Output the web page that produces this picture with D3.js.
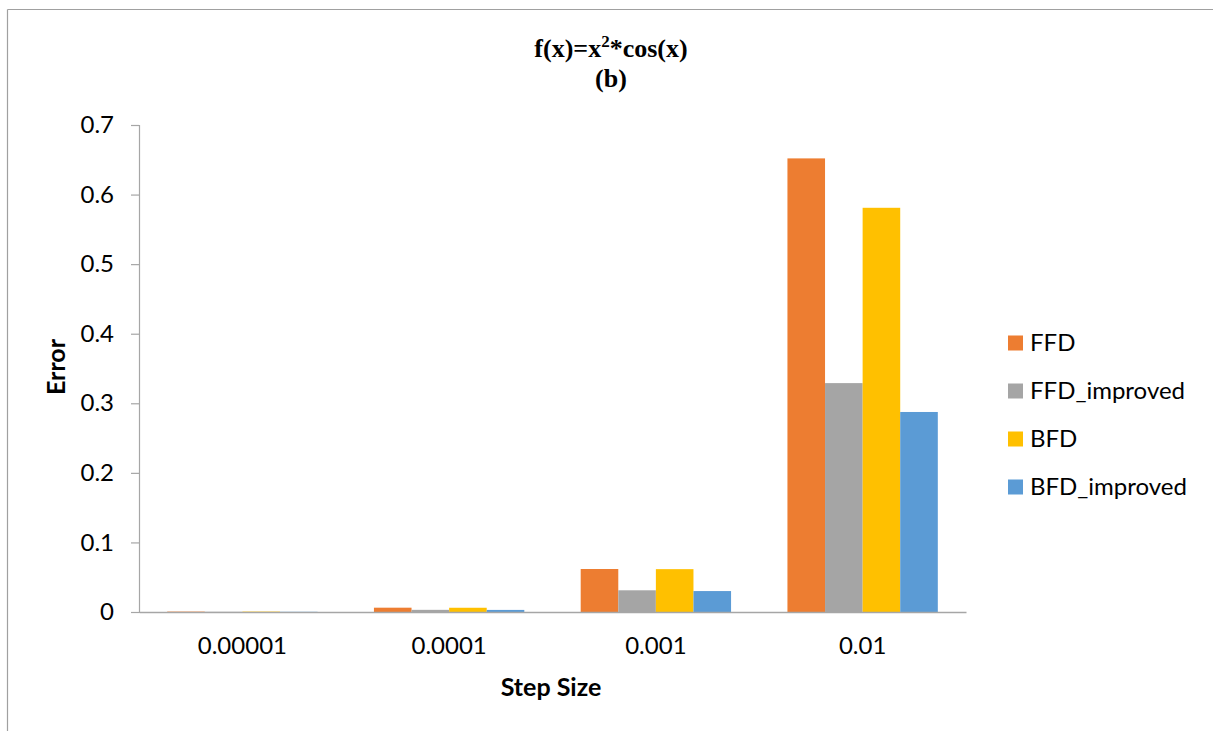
<!DOCTYPE html>
<html>
<head>
<meta charset="utf-8">
<script src="https://cdn.jsdelivr.net/npm/d3@7"></script>
<style>
  html, body { margin: 0; padding: 0; background: #fff; }
  svg { display: block; }
</style>
</head>
<body>
<svg id="chart" width="1213" height="731"></svg>
<script>
const categories = ["0.00001", "0.0001", "0.001", "0.01"];
const seriesNames = ["FFD", "FFD_improved", "BFD", "BFD_improved"];
const seriesColors = ["#ED7D31", "#A5A5A5", "#FFC000", "#5B9BD5"];
const FFD = [0.0006, 0.0062, 0.0618, 0.652];
const FFD_improved = [0.0003, 0.0031, 0.0312, 0.329];
const BFD = [0.0006, 0.0061, 0.0616, 0.581];
const BFD_improved = [0.0003, 0.003, 0.0301, 0.2875];
const yTicks = [0, 0.1, 0.2, 0.3, 0.4, 0.5, 0.6, 0.7];

const seriesValues = [FFD, FFD_improved, BFD, BFD_improved];

const svg = d3.select("#chart");
const sansFont = "Lato, 'Open Sans', 'Liberation Sans', sans-serif";

// outer frame (top and left only visible)
svg.append("line").attr("x1", 7.5).attr("x2", 1213).attr("y1", 9.5).attr("y2", 9.5)
  .attr("stroke", "#a0a0a0").attr("stroke-width", 1.2);
svg.append("line").attr("x1", 7.5).attr("x2", 7.5).attr("y1", 9.5).attr("y2", 731)
  .attr("stroke", "#a0a0a0").attr("stroke-width", 1.2);

const plot = { left: 139, right: 966, top: 125, bottom: 612 };

const x0 = d3.scaleBand().domain(categories).range([plot.left, plot.right]).paddingInner(0).paddingOuter(0);
const groupFrac = 4 / 5.5;
const x1 = d3.scaleBand().domain(seriesNames)
  .range([x0.bandwidth() * (1 - groupFrac) / 2, x0.bandwidth() * (1 + groupFrac) / 2]).padding(0);
const y = d3.scaleLinear().domain([0, 0.7]).range([plot.bottom, plot.top]);

// bars
const groups = svg.append("g").selectAll("g").data(categories).join("g")
  .attr("transform", d => `translate(${x0(d)},0)`);
groups.selectAll("rect")
  .data((c, ci) => seriesNames.map((s, si) => ({ s, si, v: seriesValues[si][ci] })))
  .join("rect")
  .attr("x", d => x1(d.s))
  .attr("width", x1.bandwidth())
  .attr("y", d => y(d.v))
  .attr("height", d => y(0) - y(d.v))
  .attr("fill", (d) => seriesColors[d.si]);

// y axis
const yAxis = svg.append("g").attr("transform", `translate(${plot.left},0)`)
  .call(d3.axisLeft(y).tickValues(yTicks).tickSize(8).tickPadding(17).tickFormat(d => d === 0 ? "0" : d3.format(".1f")(d)));
yAxis.select(".domain").attr("stroke", "#a6a6a6").attr("stroke-width", 1.2);
yAxis.selectAll(".tick line").attr("stroke", "#a6a6a6").attr("stroke-width", 1.2);
yAxis.selectAll(".tick text").attr("font-family", sansFont).attr("font-size", 24).attr("fill", "#000");

// x axis
const xAxis = svg.append("g").attr("transform", `translate(0,${plot.bottom})`)
  .call(d3.axisBottom(x0).tickSize(0).tickPadding(25));
xAxis.select(".domain").attr("stroke", "#a6a6a6").attr("stroke-width", 1.6);
xAxis.selectAll(".tick text").attr("font-family", sansFont).attr("font-size", 24).attr("fill", "#000");

// axis titles
svg.append("text").attr("x", 551).attr("y", 696)
  .attr("text-anchor", "middle").attr("font-family", sansFont).attr("font-weight", "bold")
  .attr("font-size", 25).text("Step Size");
svg.append("text").attr("transform", "translate(65,367) rotate(-90)")
  .attr("text-anchor", "middle").attr("font-family", sansFont).attr("font-weight", "bold")
  .attr("font-size", 25).text("Error");

// title
const serif = "'Liberation Serif', 'Times New Roman', serif";
const t1 = svg.append("text").attr("x", 611).attr("y", 57).attr("text-anchor", "middle")
  .attr("font-family", serif).attr("font-weight", "bold").attr("font-size", 26);
t1.append("tspan").text("f(x)=x");
t1.append("tspan").attr("dy", -10).attr("font-size", 17).text("2");
t1.append("tspan").attr("dy", 10).text("*cos(x)");
svg.append("text").attr("x", 611).attr("y", 87).attr("text-anchor", "middle")
  .attr("font-family", serif).attr("font-weight", "bold").attr("font-size", 26).text("(b)");

// legend
const legend = svg.append("g").selectAll("g").data(seriesNames).join("g")
  .attr("transform", (d, i) => `translate(1008,${343 + i * 48})`);
legend.append("rect").attr("x", 0).attr("y", -7.5).attr("width", 15).attr("height", 15)
  .attr("fill", (d, i) => seriesColors[i]);
legend.append("text").attr("x", 22).attr("y", 0).attr("dy", "0.35em")
  .attr("font-family", sansFont).attr("font-size", 24).attr("fill", "#000").text(d => d);
</script>
</body>
</html>
